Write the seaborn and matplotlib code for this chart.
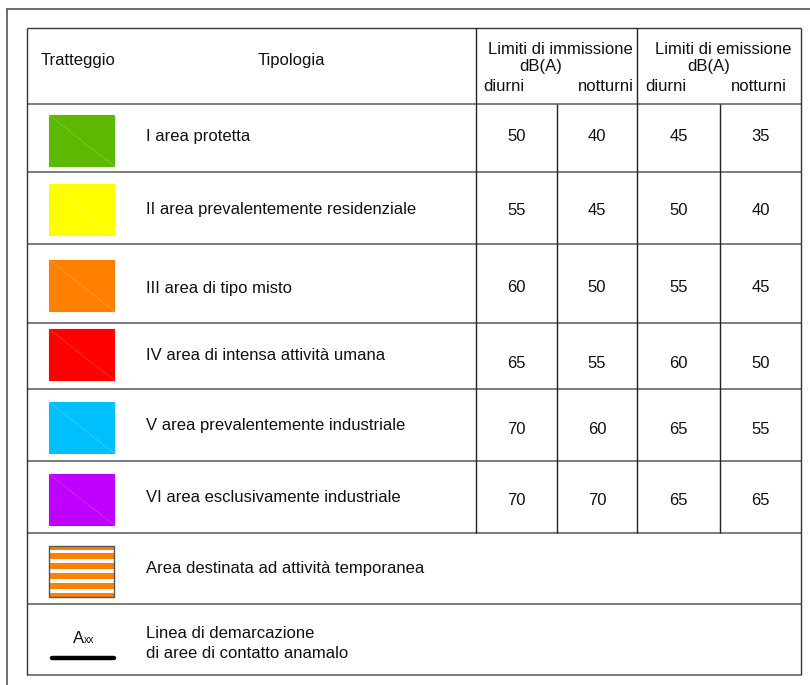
import matplotlib
matplotlib.use("Agg")
import matplotlib.pyplot as plt
import matplotlib.patches as mpatches
import matplotlib.colors as mcolors
import seaborn as sns

# ---------------- data ----------------
categories = [
    "I area protetta",
    "II area prevalentemente residenziale",
    "III area di tipo misto",
    "IV area di intensa attività umana",
    "V area prevalentemente industriale",
    "VI area esclusivamente industriale",
]
imm_day = [50, 55, 60, 65, 70, 70]
imm_night = [40, 45, 50, 55, 60, 70]
em_day = [45, 50, 55, 60, 65, 65]
em_night = [35, 40, 45, 50, 55, 65]
swatch_colors = ["#5CB800", "#FFFF00", "#FF8000", "#FF0000", "#00BFFF", "#BF00FF"]

header_left = ["Tratteggio", "Tipologia"]
header_imm = ["Limiti di immissione", "dB(A)"]
header_em = ["Limiti di emissione", "dB(A)"]
sub_headers = ["diurni", "notturni"]
temp_label = "Area destinata ad attività temporanea"
line_label = ["Linea di demarcazione", "di aree di contatto anamalo"]
line_symbol = ["A", "xx"]

# ---------------- layout (pixel space) ----------------
W, H = 810, 685
tab_left, tab_right, tab_top = 27, 801, 28
row_edges = [104, 172, 244, 323, 389, 461, 533, 604, 675]
col_edges = [476, 557, 637, 720, 801]
swatch_x, swatch_w, swatch_h = 49, 65, 51
swatch_tops = [115, 184, 260, 329, 402, 474]
stripe_top = 546
desc_x = 146
desc_y = [136, 209, 288, 355, 425, 497]
num_y = [136, 210, 287, 363, 429, 500]

sns.set_theme(style="white")
plt.rcParams["font.family"] = ["Liberation Sans", "DejaVu Sans"]
txt = "#111111"
fs = 12

fig = plt.figure(figsize=(W / 100, H / 100), dpi=100)
ax = fig.add_axes([0, 0, 1, 1])
ax.set_xlim(0, W)
ax.set_ylim(H, 0)
ax.axis("off")

# outer frame
ax.plot([7, W], [9, 9], color="#555555", lw=1.2)
ax.plot([7, 7], [9, H], color="#555555", lw=1.2)

# table horizontal lines
ax.hlines([tab_top], tab_left, tab_right, color="#333333", lw=1.0)
ax.hlines(row_edges, tab_left, tab_right, color="#666666", lw=1.2)
# vertical lines
ax.vlines([tab_left, tab_right], tab_top, row_edges[-1], color="#333333", lw=1.0)
ax.vlines([col_edges[0], col_edges[2]], tab_top, row_edges[6], color="#222222", lw=1.0)
ax.vlines([col_edges[1], col_edges[3]], row_edges[0], row_edges[6], color="#222222", lw=1.0)

# header texts
ax.text(78, 60, header_left[0], ha="center", va="center", fontsize=fs, color=txt)
ax.text(291, 60, header_left[1], ha="center", va="center", fontsize=fs, color=txt)
ax.text(560, 49, header_imm[0], ha="center", va="center", fontsize=fs, color=txt)
ax.text(541, 66, header_imm[1], ha="center", va="center", fontsize=fs, color=txt)
ax.text(483, 86, sub_headers[0], ha="left", va="center", fontsize=fs, color=txt)
ax.text(634, 86, sub_headers[1], ha="right", va="center", fontsize=fs, color=txt)
ax.text(723, 49, header_em[0], ha="center", va="center", fontsize=fs, color=txt)
ax.text(709, 66, header_em[1], ha="center", va="center", fontsize=fs, color=txt)
ax.text(645, 86, sub_headers[0], ha="left", va="center", fontsize=fs, color=txt)
ax.text(787, 86, sub_headers[1], ha="right", va="center", fontsize=fs, color=txt)

# rows
col_centers = [(col_edges[i] + col_edges[i + 1]) / 2 for i in range(4)]
for i, cat in enumerate(categories):
    c = swatch_colors[i]
    top = swatch_tops[i]
    ax.add_patch(mpatches.Rectangle((swatch_x, top), swatch_w, swatch_h,
                                    facecolor=c, edgecolor=c, lw=0.8))
    light = tuple(0.75 * v + 0.25 for v in mcolors.to_rgb(c))
    ax.plot([swatch_x, swatch_x + swatch_w], [top, top + swatch_h], color=light, lw=0.5)
    ax.text(desc_x, desc_y[i], cat, ha="left", va="center", fontsize=fs, color=txt)
    for j, vals in enumerate([imm_day, imm_night, em_day, em_night]):
        ax.text(col_centers[j], num_y[i], str(vals[i]), ha="center", va="center",
                fontsize=fs, color=txt)

# striped swatch (temporary activity)
ax.add_patch(mpatches.Rectangle((swatch_x, stripe_top), swatch_w, swatch_h,
                                facecolor="#FAFAFA", edgecolor="none"))
for k in range(6):
    y0 = stripe_top - 2.5 + k * 9.9
    y1 = min(y0 + 6, stripe_top + swatch_h)
    y0 = max(y0, stripe_top)
    ax.add_patch(mpatches.Rectangle((swatch_x, y0), swatch_w, y1 - y0,
                                    facecolor="#FF8000", edgecolor="none"))
ax.add_patch(mpatches.Rectangle((swatch_x, stripe_top), swatch_w, swatch_h,
                                facecolor="none", edgecolor="#555555", lw=1.0))
ax.text(desc_x, 569, temp_label, ha="left", va="center", fontsize=fs, color=txt)

# demarcation line row
ax.text(73, 643, line_symbol[0], ha="left", va="baseline", fontsize=fs, color=txt)
ax.text(83.5, 643, line_symbol[1], ha="left", va="baseline", fontsize=7.5, color=txt)
ax.plot([52, 114], [658, 658], color="black", lw=3.2, solid_capstyle="round")
ax.text(desc_x, 633, line_label[0], ha="left", va="center", fontsize=fs, color=txt)
ax.text(desc_x, 653, line_label[1], ha="left", va="center", fontsize=fs, color=txt)

fig.savefig("out.png", dpi=100, facecolor="white")
